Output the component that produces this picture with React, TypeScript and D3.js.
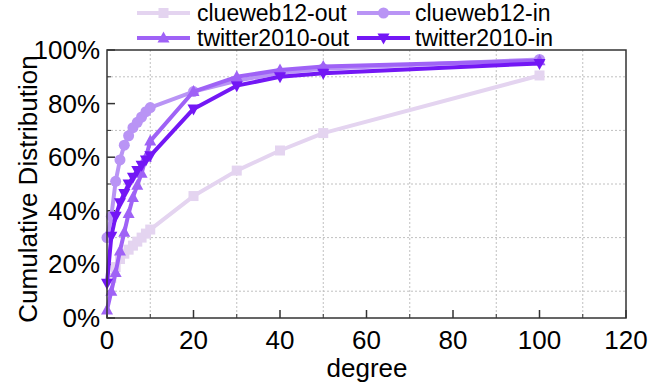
import React from "react";
import * as d3 from "d3";

const xTicks = [0, 20, 40, 60, 80, 100, 120];
const yTicks = [0, 20, 40, 60, 80, 100];
const gridX = [10, 30, 50, 70, 90, 110];
const gridY = [10, 30, 50, 70, 90];

const degreesLow = [1, 2, 3, 4, 5, 6, 7, 8, 9, 10, 20, 30, 40, 50, 100];
const degreesAll = [0, 1, 2, 3, 4, 5, 6, 7, 8, 9, 10, 20, 30, 40, 50, 100];

const clueOut = [15, 19, 22, 24, 25.5, 27, 28.5, 30, 31.5, 33, 45.5, 55, 62.5, 69, 90.5];
const clueIn = [30, 38, 51, 59, 64.5, 68, 71, 73, 75, 77, 78.5, 84.5, 88.5, 91.5, 93, 96.5];
const twOut = [3, 10, 17, 25, 32, 39, 45, 49.5, 54, 60, 66, 84.5, 90, 92.5, 93.8, 96];
const twIn = [13, 30.5, 38, 43, 46.5, 50, 52.5, 55, 57, 59, 60.5, 78, 86.7, 90, 91.3, 95];

const seriesNames = ["clueweb12-out", "clueweb12-in", "twitter2010-out", "twitter2010-in"];
const colors = ["#e4d4f0", "#b994f5", "#9f62f6", "#7317f5"];
const markers = ["square", "circle", "triUp", "triDown"];

const W = 660, H = 385;
const L = 107, R = 626, T = 50, B = 318;
const FONT = "'Liberation Sans', Arial, sans-serif";

function Marker({ type, x, y, color }: { type: string; x: number; y: number; color: string }) {
  if (type === "square") return <rect x={x - 5} y={y - 5} width={10} height={10} fill={color} />;
  if (type === "circle") return <circle cx={x} cy={y} r={5.5} fill={color} />;
  if (type === "triUp") return <path d={`M${x},${y - 6.5} L${x + 6},${y + 4.5} L${x - 6},${y + 4.5} Z`} fill={color} />;
  return <path d={`M${x},${y + 6.5} L${x + 6},${y - 4.5} L${x - 6},${y - 4.5} Z`} fill={color} />;
}

export default function App() {
  const xs = d3.scaleLinear().domain([0, 120]).range([L, R]);
  const ys = d3.scaleLinear().domain([0, 100]).range([B, T]);
  const data = [
    degreesLow.map((d, i) => [d, clueOut[i]]),
    degreesAll.map((d, i) => [d, clueIn[i]]),
    degreesAll.map((d, i) => [d, twOut[i]]),
    degreesAll.map((d, i) => [d, twIn[i]]),
  ];
  const line = d3.line<number[]>().x((p) => xs(p[0])).y((p) => ys(p[1]));

  const legendPos = [
    { lx: 137, tx: 197, y: 13 },
    { lx: 357, tx: 415, y: 13 },
    { lx: 137, tx: 197, y: 38 },
    { lx: 357, tx: 415, y: 38 },
  ];

  return (
    <svg width={W} height={H} style={{ position: "absolute", left: 0, top: 0, background: "#fff" }} fontFamily={FONT}>
      <rect width={W} height={H} fill="#fff" />
      {gridX.map((g) => (
        <line key={"gx" + g} x1={xs(g)} x2={xs(g)} y1={T} y2={B} stroke="#c0c0c0" strokeWidth={1} strokeDasharray="2,2" />
      ))}
      {gridY.map((g) => (
        <line key={"gy" + g} x1={L} x2={R} y1={ys(g)} y2={ys(g)} stroke="#c0c0c0" strokeWidth={1} strokeDasharray="2,2" />
      ))}
      {gridX.map((g) => (
        <line key={"mx" + g} x1={xs(g)} x2={xs(g)} y1={B} y2={B - 4} stroke="#333" strokeWidth={1} />
      ))}
      {gridY.map((g) => (
        <line key={"my" + g} x1={L} x2={L + 4} y1={ys(g)} y2={ys(g)} stroke="#333" strokeWidth={1} />
      ))}
      {xTicks.map((t) => (
        <g key={"xt" + t}>
          <line x1={xs(t)} x2={xs(t)} y1={B} y2={B - 8} stroke="#333" strokeWidth={1.5} />
          <text x={xs(t)} y={349} textAnchor="middle" fontSize={26} fill="#000">{t}</text>
        </g>
      ))}
      {yTicks.map((t) => (
        <g key={"yt" + t}>
          <line x1={L} x2={L + 8} y1={ys(t)} y2={ys(t)} stroke="#333" strokeWidth={1.5} />
          <text x={100} y={ys(t) + 9} textAnchor="end" fontSize={26} fill="#000">{t}%</text>
        </g>
      ))}
      {data.map((s, i) => (
        <g key={"s" + i}>
          <path d={line(s as any) || ""} fill="none" stroke={colors[i]} strokeWidth={4} strokeLinejoin="round" />
          {s.map((p, j) => (
            <Marker key={j} type={markers[i]} x={xs(p[0])} y={ys(p[1])} color={colors[i]} />
          ))}
        </g>
      ))}
      <rect x={L} y={T} width={R - L} height={B - T} fill="none" stroke="#333" strokeWidth={1.5} />
      <text x={367} y={377} textAnchor="middle" fontSize={26} fill="#000">degree</text>
      <text transform={`translate(37,${(T + B) / 2 + 5}) rotate(-90)`} textAnchor="middle" fontSize={26} fill="#000">Cumulative Distribution</text>
      {seriesNames.map((n, i) => {
        const p = legendPos[i];
        return (
          <g key={"lg" + i}>
            <line x1={p.lx} x2={p.lx + 53} y1={p.y} y2={p.y} stroke={colors[i]} strokeWidth={4} />
            <Marker type={markers[i]} x={p.lx + 26.5} y={p.y} color={colors[i]} />
            <text x={p.tx} y={p.y + 8} fontSize={23} fill="#000">{n}</text>
          </g>
        );
      })}
    </svg>
  );
}
